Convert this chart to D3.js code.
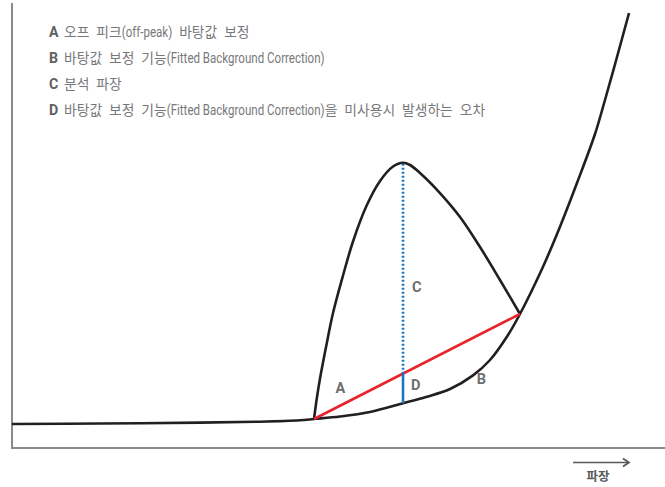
<!DOCTYPE html>
<html>
<head>
<meta charset="utf-8">
<script src="https://cdn.jsdelivr.net/npm/d3@7/dist/d3.min.js"></script>
<style>
  html, body { margin: 0; padding: 0; background: #fff; }
  svg { display: block; }
</style>
</head>
<body>
<svg id="chart" width="665" height="487"></svg>
<script>
// Background (continuum) curve: wavelength vs. intensity, arbitrary units
const bgWavelength = [0, 13.48, 28.79, 37.98, 44.10, 46.25, 50.23, 54.82, 59.88, 63.40, 67.08, 70.60, 73.20, 75.96, 77.79, 81.32, 83.92, 86.52, 89.28, 90.81, 92.65, 94.49];
const bgIntensity  = [5.41, 5.52, 5.72, 5.92, 6.24, 6.53, 7.09, 8.11, 10.07, 11.49, 13.29, 16.35, 19.82, 25.45, 30.18, 40.83, 49.84, 59.68, 70.72, 78.38, 88.06, 97.97];

// Analyte peak sitting on top of the background
const peakWavelength = [46.25, 46.71, 47.17, 48.09, 49.16, 50.69, 52.22, 54.21, 56.36, 58.35, 59.88, 60.95, 62.48, 65.54, 68.61, 71.67, 74.73, 77.79];
const peakIntensity  = [6.53, 11.49, 15.65, 22.75, 30.41, 38.85, 46.51, 54.28, 60.14, 63.40, 64.26, 63.74, 61.94, 57.43, 52.03, 45.27, 37.84, 30.18];

// Legend entries
const legendKeys  = ["A", "B", "C", "D"];
const legendTexts = [
  "오프 피크(off-peak) 바탕값 보정",
  "바탕값 보정 기능(Fitted Background Correction)",
  "분석 파장",
  "바탕값 보정 기능(Fitted Background Correction)을 미사용시 발생하는 오차"
];
const xAxisLabel = "파장";

const svg = d3.select("#chart");
const x = d3.scaleLinear().domain([0, 100]).range([12, 665]);
const y = d3.scaleLinear().domain([0, 100]).range([448, 4]);

const ink = "#231f20", grey = "#6d6e71";
const font = "Roboto, 'Noto Sans CJK KR', sans-serif";

// axes frame
svg.append("line").attr("x1", x(0)).attr("x2", x(0)).attr("y1", y(100) - 1).attr("y2", y(0))
  .attr("stroke", "#8a8a8a").attr("stroke-width", 2);
svg.append("line").attr("x1", x(0) - 1).attr("x2", x(100)).attr("y1", y(0)).attr("y2", y(0))
  .attr("stroke", "#8a8a8a").attr("stroke-width", 2);

const bg = bgWavelength.map((w, i) => [w, bgIntensity[i]]);
const pk = peakWavelength.map((w, i) => [w, peakIntensity[i]]);
const line = d3.line().x(d => x(d[0])).y(d => y(d[1])).curve(d3.curveCatmullRom.alpha(0.5));

svg.append("path").attr("d", line(bg)).attr("fill", "none").attr("stroke", ink).attr("stroke-width", 2.6);
svg.append("path").attr("d", line(pk)).attr("fill", "none").attr("stroke", ink).attr("stroke-width", 2.6);

// linear off-peak interpolation between the two peak feet
const p0 = pk[0], p1 = pk[pk.length - 1];
svg.append("line").attr("x1", x(p0[0])).attr("y1", y(p0[1])).attr("x2", x(p1[0])).attr("y2", y(p1[1]))
  .attr("stroke", "#e8232a").attr("stroke-width", 2.6);

// analytical wavelength at the peak maximum
const peakTop = pk[d3.maxIndex(pk, d => d[1])];
const wl = peakTop[0];
const interp = p0[1] + (wl - p0[0]) / (p1[0] - p0[0]) * (p1[1] - p0[1]);
const bgAt = bg[bg.findIndex(d => d[0] === wl)][1];

svg.append("line").attr("x1", x(wl)).attr("x2", x(wl)).attr("y1", y(peakTop[1]) + 1).attr("y2", y(interp))
  .attr("stroke", "#1b75c0").attr("stroke-width", 2.6).attr("stroke-dasharray", "2,2");
svg.append("line").attr("x1", x(wl)).attr("x2", x(wl)).attr("y1", y(interp)).attr("y2", y(bgAt))
  .attr("stroke", "#1b75c0").attr("stroke-width", 2.6);

// in-plot labels (wavelength, intensity of the text baseline)
const labels = [
  { k: "C", w: wl + 2.1, v: 35.1 },
  { k: "A", w: 50.3, v: 12.4 },
  { k: "D", w: wl + 1.95, v: 13.1 },
  { k: "B", w: 71.9, v: 14.4 }
];
svg.selectAll("text.mark").data(labels).join("text").attr("class", "mark")
  .attr("x", d => x(d.w)).attr("y", d => y(d.v)).attr("text-anchor", "middle")
  .attr("font-family", font).attr("font-weight", "bold").attr("font-size", 14.5)
  .attr("fill", grey).text(d => d.k);

// legend: each run is its own text element; Latin runs in parentheses are squeezed horizontally
const condensedPx = { "(off-peak)": 50.5, "(Fitted Background Correction)": 158 };
const legendSize = 13.8;
const lg = svg.append("g").attr("font-family", font).attr("font-size", legendSize);
legendKeys.forEach((k, i) => {
  const by = 37 + i * 26;
  lg.append("text").attr("x", 49).attr("y", by).attr("font-weight", "bold")
    .attr("font-size", 14.2).attr("fill", "#5f6062").text(k);
  let cx = 64;
  legendTexts[i].split(/(\([A-Za-z][^)]*\))/).filter(s => s.length).forEach(s => {
    const t = lg.append("text").attr("fill", "#77787b")
      .style("white-space", "pre").text(s);
    if (condensedPx[s]) {
      t.attr("font-size", 14.5);
      const len = condensedPx[s];
      const natural = t.node().getComputedTextLength();
      t.attr("transform", `translate(${cx},${by}) scale(${len / natural},1)`);
      cx += len;
    } else {
      t.attr("word-spacing", 3.5).attr("transform", `translate(${cx},${by})`);
      cx += t.node().getComputedTextLength();
    }
  });
});

// x-axis title with arrow
svg.append("line").attr("x1", 573).attr("x2", 628).attr("y1", 462.5).attr("y2", 462.5)
  .attr("stroke", "#58595b").attr("stroke-width", 1.6);
svg.append("path").attr("d", "M623,458.5 L629,462.5 L623,466.5").attr("fill", "none")
  .attr("stroke", "#58595b").attr("stroke-width", 1.8);
svg.append("text").attr("x", 598).attr("y", 481).attr("text-anchor", "middle")
  .attr("font-family", font).attr("font-weight", "bold").attr("font-size", 12.5)
  .attr("fill", "#58595b").text(xAxisLabel);
</script>
</body>
</html>
